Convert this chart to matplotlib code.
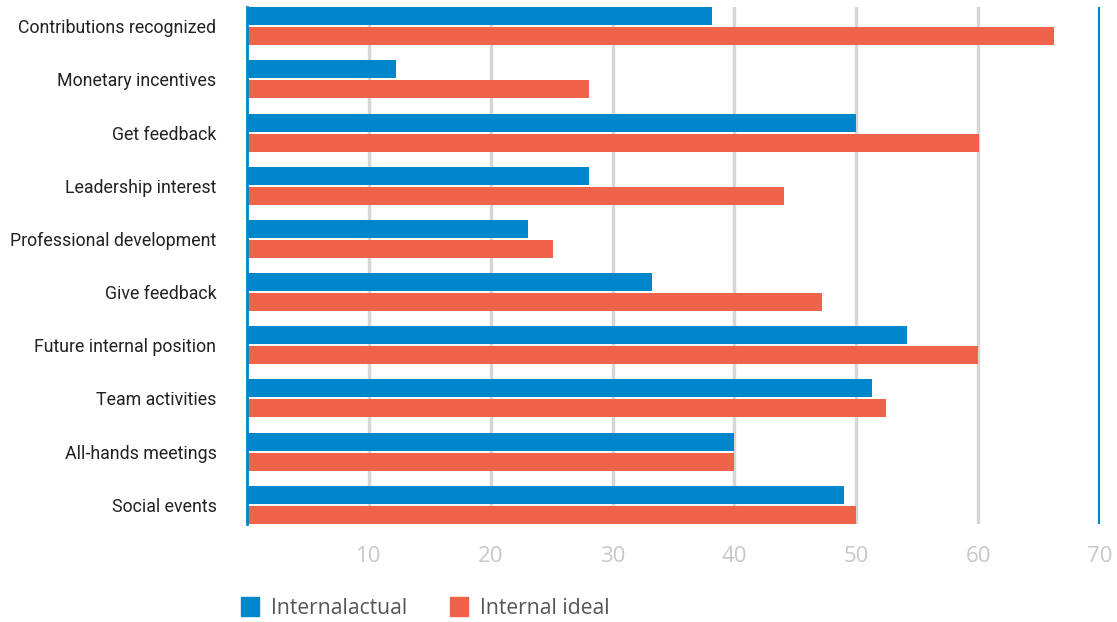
import numpy as np
import matplotlib.pyplot as plt
from matplotlib.patches import Patch

categories = ['Contributions recognized', 'Monetary incentives', 'Get feedback',
              'Leadership interest', 'Professional development', 'Give feedback',
              'Future internal position', 'Team activities', 'All-hands meetings',
              'Social events']
internal_actual = [38.2, 12.2, 50.0, 28.1, 23.1, 33.2, 54.2, 51.3, 40.0, 49.0]
internal_ideal = [66.2, 28.1, 60.1, 44.1, 25.1, 47.2, 60.0, 52.4, 40.0, 50.0]
xticks = [10, 20, 30, 40, 50, 60, 70]

blue = '#0086CA'
red = '#F0634B'

fig = plt.figure(figsize=(11.17, 6.22), dpi=100)
ax = fig.add_axes([247/1117, 1 - 524/622, 853/1117, 517/622])

y = np.arange(len(categories))
h = 0.338
ax.barh(y - 0.188, internal_actual, height=h, color=blue, zorder=3)
ax.barh(y + 0.188, internal_ideal, height=h, color=red, zorder=3)

ax.set_xlim(0, 70)
ax.set_ylim(len(categories) - 1 + 0.36, -0.36)

for t in xticks[:-1]:
    ax.axvline(t, color='#d6d6d6', lw=2.5, zorder=1)
ax.axvline(70, color=blue, lw=3, zorder=4)

for s in ['top', 'right', 'bottom']:
    ax.spines[s].set_visible(False)
ax.spines['left'].set_color(blue)
ax.spines['left'].set_linewidth(2)
ax.spines['left'].set_zorder(5)

ax.set_yticks(y)
ax.set_yticklabels(categories, fontsize=12.8, color='#222222', family='Roboto')
ax.set_xticks(xticks)
ax.set_xticklabels([str(t) for t in xticks], fontsize=16, color='#c8c8c8', family='Open Sans')
ax.tick_params(axis='both', length=0)
ax.tick_params(axis='x', pad=16)
ax.tick_params(axis='y', pad=22)

handles = [Patch(color=blue, label='Internalactual'), Patch(color=red, label='Internal ideal')]
fig.legend(handles=handles, loc='center left', bbox_to_anchor=(226/1117, 1 - 608/622),
           ncol=2, frameon=False, handlelength=0.85, handleheight=1.0,
           handletextpad=0.6, columnspacing=2.0, borderpad=0.2,
           prop={'family': 'Open Sans', 'size': 15.2}, labelcolor='#555555')

fig.savefig('out.png', dpi=100)
